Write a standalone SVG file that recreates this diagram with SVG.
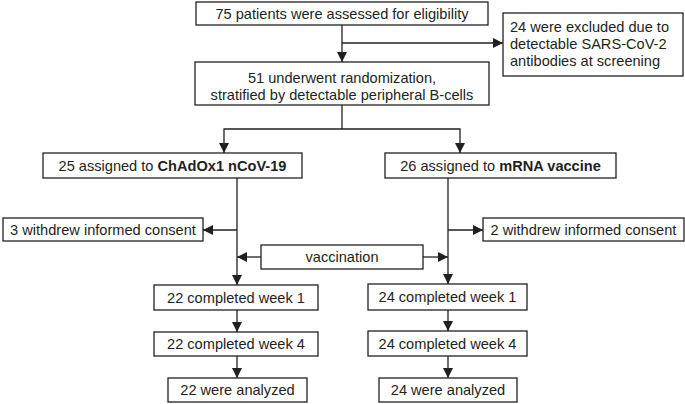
<svg xmlns="http://www.w3.org/2000/svg" width="685" height="404" viewBox="0 0 685 404">
<defs>
<marker id="arr" viewBox="0 0 10 10" refX="10" refY="5" markerWidth="10" markerHeight="10" markerUnits="userSpaceOnUse" orient="auto">
<path d="M0,0 L10,5 L0,10 Z" fill="#231f20"/>
</marker>
<style>
.box{fill:#fff;stroke:#231f20;stroke-width:1.3}
.t{font-family:"Liberation Sans",Arial,sans-serif;font-size:14.6px;fill:#231f20;text-anchor:middle;dominant-baseline:central}
.l{text-anchor:start}
.b{font-weight:bold}
.c{fill:none;stroke:#231f20;stroke-width:1.3}
</style>
</defs>
<rect width="685" height="404" fill="#fff"/>
<g id="connectors">
<path class="c" d="M342,25 V62" marker-end="url(#arr)"/>
<path class="c" d="M342,43 H503" marker-end="url(#arr)"/>
<path class="c" d="M342,105 V129"/>
<path class="c" d="M342,129 H224 V153" marker-end="url(#arr)"/>
<path class="c" d="M342,129 H460 V153" marker-end="url(#arr)"/>
<path class="c" d="M237,178 V285" marker-end="url(#arr)"/>
<path class="c" d="M448,178 V284" marker-end="url(#arr)"/>
<path class="c" d="M237,230 H203" marker-end="url(#arr)"/>
<path class="c" d="M448,230 H483" marker-end="url(#arr)"/>
<path class="c" d="M261,257 H237" marker-end="url(#arr)"/>
<path class="c" d="M423,257 H448" marker-end="url(#arr)"/>
<path class="c" d="M237,310 V332" marker-end="url(#arr)"/>
<path class="c" d="M448,310 V331" marker-end="url(#arr)"/>
<path class="c" d="M237,356 V378" marker-end="url(#arr)"/>
<path class="c" d="M448,356 V378" marker-end="url(#arr)"/>
</g>
<g id="assessed">
<rect class="box" x="196" y="2" width="292" height="23"/>
<text class="t" x="342" y="14">75 patients were assessed for eligibility</text>
</g>
<g id="excluded">
<rect class="box" x="503" y="13" width="180" height="63"/>
<text class="t l" x="510" y="27">24 were excluded due to</text>
<text class="t l" x="510" y="44">detectable SARS-CoV-2</text>
<text class="t l" x="510" y="61">antibodies at screening</text>
</g>
<g id="randomization">
<rect class="box" x="195" y="62" width="294" height="43"/>
<text class="t" x="342" y="78">51 underwent randomization,</text>
<text class="t" x="342" y="95">stratified by detectable peripheral B-cells</text>
</g>
<g id="chadox">
<rect class="box" x="43" y="153" width="259" height="25"/>
<text class="t" x="172.5" y="166">25 assigned to <tspan class="b">ChAdOx1 nCoV-19</tspan></text>
</g>
<g id="mrna">
<rect class="box" x="385" y="153" width="231" height="25"/>
<text class="t" x="500.5" y="166">26 assigned to <tspan class="b">mRNA vaccine</tspan></text>
</g>
<g id="withdrew-left">
<rect class="box" x="3" y="218" width="200" height="23"/>
<text class="t" x="103" y="230">3 withdrew informed consent</text>
</g>
<g id="withdrew-right">
<rect class="box" x="483" y="218" width="201" height="23"/>
<text class="t" x="583.5" y="230">2 withdrew informed consent</text>
</g>
<g id="vaccination">
<rect class="box" x="261" y="245" width="162" height="24"/>
<text class="t" x="342" y="257">vaccination</text>
</g>
<g id="left-week1">
<rect class="box" x="154" y="285" width="164" height="25"/>
<text class="t" x="236" y="297.5">22 completed week 1</text>
</g>
<g id="left-week4">
<rect class="box" x="154" y="332" width="164" height="24"/>
<text class="t" x="236" y="344">22 completed week 4</text>
</g>
<g id="left-analyzed">
<rect class="box" x="168" y="378" width="139" height="24"/>
<text class="t" x="237.5" y="390">22 were analyzed</text>
</g>
<g id="right-week1">
<rect class="box" x="368" y="284" width="159" height="26"/>
<text class="t" x="447.5" y="297">24 completed week 1</text>
</g>
<g id="right-week4">
<rect class="box" x="368" y="331" width="159" height="25"/>
<text class="t" x="447.5" y="343.5">24 completed week 4</text>
</g>
<g id="right-analyzed">
<rect class="box" x="379" y="378" width="138" height="24"/>
<text class="t" x="448" y="390">24 were analyzed</text>
</g>
</svg>
